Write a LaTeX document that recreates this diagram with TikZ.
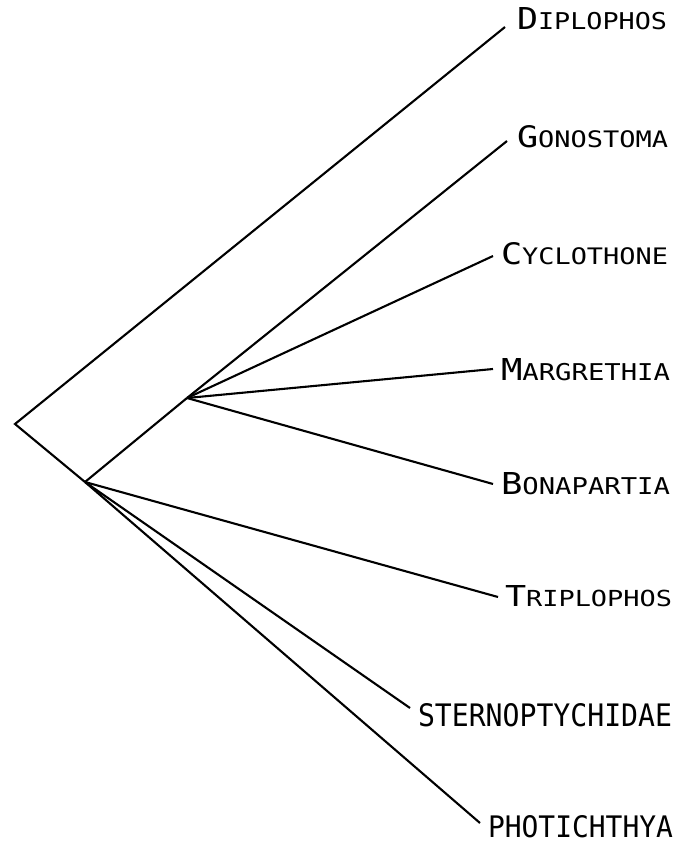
\documentclass[tikz,border=0pt]{standalone}
\usepackage{fontspec}
\usepackage{graphicx}
\newfontfamily\labfont{DejaVu Sans Mono}
\newcommand\sclab[2]{{\fontsize{30}{30}\selectfont\labfont #1}{\fontsize{23}{23}\selectfont\labfont #2}}
\newcommand\capslab[1]{{\fontsize{31}{31}\selectfont\labfont #1}}
\begin{document}
\begin{tikzpicture}[x=1pt,y=-1pt,
  branch/.style={line width=2.1pt, line join=miter, line cap=butt},
  lab/.style={anchor=base west, inner sep=0pt, outer sep=0pt}]
\useasboundingbox[fill=white] (0,0) rectangle (688,843);
% internal nodes
\coordinate (root) at (15,424);
\coordinate (A) at (85,482);
\coordinate (B) at (187,398);
% labels
\node[lab] (dip) at (517,30) {\resizebox{150pt}{22pt}{\sclab{D}{IPLOPHOS}}};
\node[lab] (gon) at (517,147) {\resizebox{151pt}{22pt}{\sclab{G}{ONOSTOMA}}};
\node[lab] (cyc) at (501,264) {\resizebox{167pt}{22pt}{\sclab{C}{YCLOTHONE}}};
\node[lab] (mar) at (501,380) {\resizebox{169pt}{22pt}{\sclab{M}{ARGRETHIA}}};
\node[lab] (bon) at (501,494) {\resizebox{169pt}{22pt}{\sclab{B}{ONAPARTIA}}};
\node[lab] (tri) at (505,606) {\resizebox{167pt}{21pt}{\sclab{T}{RIPLOPHOS}}};
\node[lab] (ste) at (418,726) {\resizebox{254pt}{23pt}{\capslab{STERNOPTYCHIDAE}}};
\node[lab] (pho) at (488,837) {\resizebox{185pt}{22pt}{\capslab{PHOTICHTHYA}}};
% connector tips
\coordinate (tdip) at (505,27);
\coordinate (tgon) at (507,141);
\coordinate (tcyc) at (493,256);
\coordinate (tmar) at (493,369);
\coordinate (tbon) at (493,484);
\coordinate (ttri) at (498,597);
\coordinate (tste) at (410,708);
\coordinate (tpho) at (480,823);
% branches
\draw[branch] (tdip) -- (root) -- (A);
\draw[branch] (A) -- (B);
\draw[branch] (B) -- (tgon);
\draw[branch] (B) -- (tcyc);
\draw[branch] (B) -- (tmar);
\draw[branch] (B) -- (tbon);
\draw[branch] (A) -- (ttri);
\draw[branch] (A) -- (tste);
\draw[branch] (A) -- (tpho);
\end{tikzpicture}
\end{document}
